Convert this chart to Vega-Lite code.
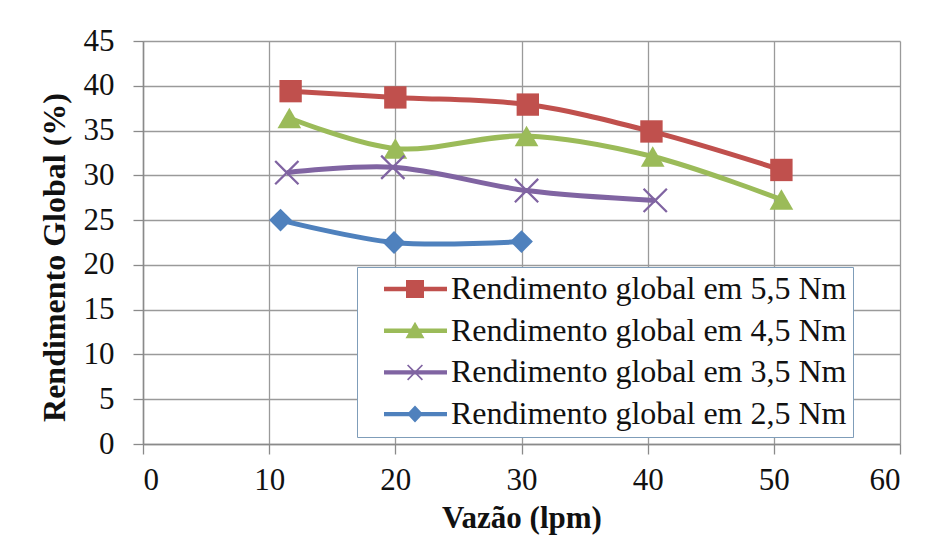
{
  "$schema": "https://vega.github.io/schema/vega-lite/v6.json",
  "width": 757,
  "height": 403,
  "autosize": "none",
  "padding": {"left": 143, "top": 41, "right": 36, "bottom": 95},
  "background": "white",
  "config": {
    "font": "Liberation Serif",
    "view": {"stroke": null},
    "axis": {
      "labelFont": "Liberation Serif",
      "titleFont": "Liberation Serif",
      "labelFontSize": 31,
      "titleFontSize": 31,
      "titleFontWeight": "bold",
      "labelColor": "#111",
      "titleColor": "#111",
      "gridColor": "#9a9a9a",
      "gridWidth": 1.3,
      "domainColor": "#8a8a8a",
      "domainWidth": 1.5,
      "tickColor": "#8a8a8a",
      "tickWidth": 1.3,
      "tickSize": 10
    }
  },
  "data": {
    "values": [
      {"serie": "Rendimento global em 5,5 Nm", "vazao": 11.7, "rend": 39.4},
      {"serie": "Rendimento global em 5,5 Nm", "vazao": 20.0, "rend": 38.7},
      {"serie": "Rendimento global em 5,5 Nm", "vazao": 30.5, "rend": 37.9},
      {"serie": "Rendimento global em 5,5 Nm", "vazao": 40.3, "rend": 34.9},
      {"serie": "Rendimento global em 5,5 Nm", "vazao": 50.6, "rend": 30.6},
      {"serie": "Rendimento global em 4,5 Nm", "vazao": 11.6, "rend": 36.4},
      {"serie": "Rendimento global em 4,5 Nm", "vazao": 20.0, "rend": 33.0},
      {"serie": "Rendimento global em 4,5 Nm", "vazao": 30.4, "rend": 34.4},
      {"serie": "Rendimento global em 4,5 Nm", "vazao": 40.4, "rend": 32.1},
      {"serie": "Rendimento global em 4,5 Nm", "vazao": 50.6, "rend": 27.3},
      {"serie": "Rendimento global em 3,5 Nm", "vazao": 11.4, "rend": 30.3},
      {"serie": "Rendimento global em 3,5 Nm", "vazao": 19.8, "rend": 30.9},
      {"serie": "Rendimento global em 3,5 Nm", "vazao": 30.4, "rend": 28.3},
      {"serie": "Rendimento global em 3,5 Nm", "vazao": 40.6, "rend": 27.2},
      {"serie": "Rendimento global em 2,5 Nm", "vazao": 10.9, "rend": 25.0},
      {"serie": "Rendimento global em 2,5 Nm", "vazao": 19.9, "rend": 22.5},
      {"serie": "Rendimento global em 2,5 Nm", "vazao": 30.0, "rend": 22.6}
    ]
  },
  "encoding": {
    "x": {
      "field": "vazao", "type": "quantitative",
      "scale": {"domain": [0, 60], "nice": false},
      "axis": {"values": [0, 10, 20, 30, 40, 50, 60], "title": "Vazão (lpm)", "labelPadding": 11, "titlePadding": 8}
    },
    "y": {
      "field": "rend", "type": "quantitative",
      "scale": {"domain": [0, 45], "nice": false},
      "axis": {"values": [0, 5, 10, 15, 20, 25, 30, 35, 40, 45], "title": "Rendimento Global (%)", "titleFontSize": 32, "titleY": 216, "labelPadding": 19, "titlePadding": 12}
    },
    "color": {
      "field": "serie", "type": "nominal",
      "scale": {
        "domain": ["Rendimento global em 5,5 Nm", "Rendimento global em 4,5 Nm", "Rendimento global em 3,5 Nm", "Rendimento global em 2,5 Nm"],
        "range": ["#C0504D", "#9BBB59", "#8064A2", "#4F81BD"]
      },
      "legend": {
        "title": null,
        "orient": "none",
        "legendX": 214,
        "legendY": 226,
        "padding": 6,
        "fillColor": "white",
        "strokeColor": "#7f9db9",
        "labelFont": "Liberation Serif",
        "labelFontSize": 32,
        "labelColor": "#111",
        "symbolSize": 400,
        "symbolOffset": 5,
        "labelOffset": 51,
        "rowPadding": 9.7,
        "symbolOpacity": 1,
        "labelLimit": 600,
        "encode": {
          "symbols": {
            "update": {
              "shape": {"signal": "datum.value === 'Rendimento global em 5,5 Nm' ? 'M0,-0.22H6.3V0.22H0Z M2.2,-0.9H4V0.9H2.2Z' : datum.value === 'Rendimento global em 4,5 Nm' ? 'M0,-0.22H6.3V0.22H0Z M3.1,-0.9L4.05,0.75H2.15Z' : datum.value === 'Rendimento global em 3,5 Nm' ? 'M0,-0.22H6.3V0.22H0Z M2.3,-0.68L2.42,-0.8L3.1,-0.12L3.78,-0.8L3.9,-0.68L3.22,0L3.9,0.68L3.78,0.8L3.1,0.12L2.42,0.8L2.3,0.68L2.98,0Z' : 'M0,-0.22H6.3V0.22H0Z M3.1,-0.85L3.9,0L3.1,0.85L2.3,0Z'"},
              "fill": {"scale": "color", "field": "value"},
              "strokeWidth": {"value": 0},
              "opacity": {"value": 1}
            }
          }
        }
      }
    }
  },
  "layer": [
    {
      "mark": {"type": "line", "interpolate": "catmull-rom", "strokeWidth": 5}
    },
    {
      "transform": [{"filter": "datum.serie === 'Rendimento global em 5,5 Nm'"}],
      "mark": {"type": "point", "filled": true, "opacity": 1, "size": 500, "shape": "square"}
    },
    {
      "transform": [{"filter": "datum.serie === 'Rendimento global em 4,5 Nm'"}],
      "mark": {"type": "point", "filled": true, "opacity": 1, "size": 560, "shape": "triangle-up"}
    },
    {
      "transform": [{"filter": "datum.serie === 'Rendimento global em 3,5 Nm'"}],
      "mark": {"type": "point", "filled": true, "opacity": 1, "size": 620, "shape": "M-1,-0.87L-0.87,-1L0,-0.13L0.87,-1L1,-0.87L0.13,0L1,0.87L0.87,1L0,0.13L-0.87,1L-1,0.87L-0.13,0Z"}
    },
    {
      "transform": [{"filter": "datum.serie === 'Rendimento global em 2,5 Nm'"}],
      "mark": {"type": "point", "filled": true, "opacity": 1, "size": 520, "shape": "diamond"}
    }
  ]
}
